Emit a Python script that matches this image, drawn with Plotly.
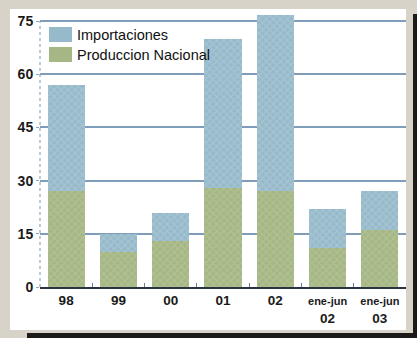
import plotly.graph_objects as go

# Periods and volumes (stacked: national production at the bottom, imports on top)
categories = ["98", "99", "00", "01", "02", "ene-jun 02", "ene-jun 03"]
tick_labels = ["98", "99", "00", "01", "02",
               "<span style='font-size:11px'>ene-jun</span><br>02",
               "<span style='font-size:11px'>ene-jun</span><br>03"]
produccion_nacional = [27, 10, 13, 28, 27, 11, 16]
importaciones = [30, 5, 8, 42, 49.6, 11, 11]
y_ticks = [0, 15, 30, 45, 60, 75]

W, H = 417, 338
ML, MR, MT, MB = 40, 11, 12, 51
PW, PH = W - ML - MR, H - MT - MB

BLUE, BLUE_FG = "#97bacb", "#bcd3de"
GREEN, GREEN_FG = "#a5b784", "#c4cfa6"


def fx(px):
    return (px - ML) / PW


def fy(py):
    return (H - MB - py) / PH


fig = go.Figure()
fig.add_trace(go.Bar(
    x=categories, y=produccion_nacional, name="Produccion Nacional",
    marker=dict(color=GREEN, line=dict(width=0),
                pattern=dict(shape="x", fgcolor=GREEN_FG, bgcolor=GREEN,
                             size=5, solidity=0.35)),
))
fig.add_trace(go.Bar(
    x=categories, y=importaciones, name="Importaciones",
    marker=dict(color=BLUE, line=dict(width=0),
                pattern=dict(shape="x", fgcolor=BLUE_FG, bgcolor=BLUE,
                             size=5, solidity=0.35)),
))

shapes = [
    # white panel on the grey frame
    dict(type="rect", xref="paper", yref="paper", layer="below",
         x0=fx(10), x1=fx(406), y0=fy(330), y1=fy(9),
         fillcolor="white", line=dict(width=0)),
    # drop shadow, right and bottom
    dict(type="rect", xref="paper", yref="paper", layer="below",
         x0=fx(413), x1=fx(418), y0=fy(339), y1=fy(14),
         fillcolor="#1c1a18", line=dict(width=0)),
    dict(type="rect", xref="paper", yref="paper", layer="below",
         x0=fx(27), x1=fx(418), y0=fy(339), y1=fy(333),
         fillcolor="#1c1a18", line=dict(width=0)),
    # left axis line up to 75
    dict(type="line", xref="paper", yref="y", x0=0, x1=0, y0=0, y1=75,
         line=dict(color="#8fa6bd", width=1.2, dash="dot")),
    # key swatches
    dict(type="rect", xref="paper", yref="paper", layer="above",
         x0=fx(49), x1=fx(72), y0=fy(42), y1=fy(27),
         fillcolor=BLUE, line=dict(width=0)),
    dict(type="rect", xref="paper", yref="paper", layer="above",
         x0=fx(49), x1=fx(72), y0=fy(62), y1=fy(47),
         fillcolor=GREEN, line=dict(width=0)),
]

key_font = dict(size=14.5, family="Liberation Sans, Arial", color="#111")
annotations = [
    dict(xref="paper", yref="paper", x=fx(75), y=fy(35), text="Importaciones",
         showarrow=False, xanchor="left", yanchor="middle", font=key_font),
    dict(xref="paper", yref="paper", x=fx(75), y=fy(55), text="Produccion Nacional",
         showarrow=False, xanchor="left", yanchor="middle", font=key_font),
]

fig.update_layout(
    width=W, height=H,
    margin=dict(l=ML, r=MR, t=MT, b=MB, pad=0),
    paper_bgcolor="#d8d3c8",
    plot_bgcolor="rgba(0,0,0,0)",
    barmode="stack",
    bargap=0.29,
    showlegend=False,
    shapes=shapes,
    annotations=annotations,
    font=dict(family="Liberation Sans, Arial", color="#1a1a1a"),
    xaxis=dict(
        tickmode="array", tickvals=categories, ticktext=tick_labels,
        showgrid=False, showline=True, linecolor="#2a3440", linewidth=1.5,
        ticks="inside", tickson="boundaries", ticklen=4, tickcolor="#6a7e94",
        tickfont=dict(size=13.5, family="Liberation Sans, Arial", weight="bold"),
    ),
    yaxis=dict(
        range=[0, PH / (266 / 75)], tickmode="array", tickvals=y_ticks,
        showgrid=True, gridcolor="#7f9cb8", gridwidth=1.5,
        zeroline=False, showline=False, ticks="outside", ticklen=3,
        tickcolor="#8fa6bd",
        tickfont=dict(size=14, family="Liberation Sans, Arial", weight="bold"),
    ),
)

fig.write_html("out.html")
